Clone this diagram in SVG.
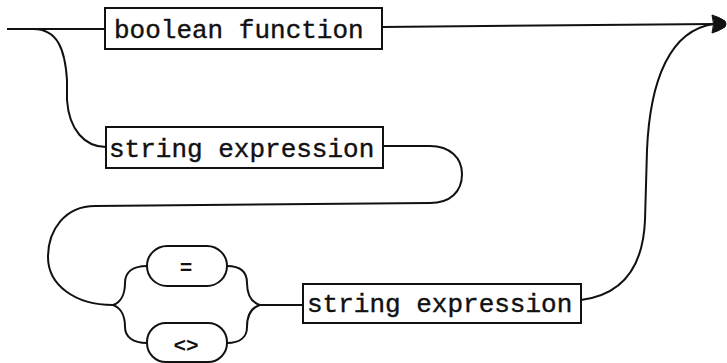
<svg xmlns="http://www.w3.org/2000/svg" width="727" height="363" viewBox="0 0 727 363">
<defs>
<style>
.box{fill:#fff;stroke:#111;stroke-width:2}
.lbl{font-family:"Liberation Mono","DejaVu Sans Mono",monospace;font-size:26px;fill:#111;stroke:#111;stroke-width:0.4}
.sm{font-family:"Liberation Mono","DejaVu Sans Mono",monospace;font-size:21px;font-weight:bold;fill:#111;text-anchor:middle}
.wire{fill:none;stroke:#111;stroke-width:2}
.head{fill:#111;stroke:#111;stroke-width:1}
</style>
</defs>
<rect width="727" height="363" fill="#fff"/>
<g id="connectors">
<path class="wire" d="M7,29 L105,29"/>
<path class="wire" d="M382,27 L714,24"/>
<path class="wire" d="M33,29 C58,29 65,50 67,80 L67,100 C69,130 85,147 106,147"/>
<path class="wire" d="M383,146 L430,146 C450,146 462,158 462,174 C462,192 450,203 430,203 L95,206 C65,206 48,230 48,257 C48,285 75,305 113,305"/>
<path class="wire" d="M113,305 C122,302 125,292 125,283 C125,272 133,266 147,266"/>
<path class="wire" d="M113,305 C122,308 125,318 125,327 C125,337 133,343 147,343"/>
<path class="wire" d="M227,266 C240,266 247,272 247,283 C247,293 250,302 260,305"/>
<path class="wire" d="M227,343 C240,343 247,337 247,327 C247,317 250,308 260,305"/>
<path class="wire" d="M260,305 L303,305"/>
<path class="wire" d="M581,300 C620,295 643,270 645,220 L647,150 C650,80 670,30 714,24"/>
<path class="head" d="M712,15 Q719,17 725,21 Q727,24 725,27 Q719,31 712,33 Q715,24 712,15 Z"/>
</g>
<g id="node-boolean-function">
<rect class="box" x="105" y="8" width="277" height="41"/>
<text class="lbl" x="114" y="38">boolean function</text>
</g>
<g id="node-string-expression-1">
<rect class="box" x="106" y="127" width="277" height="41"/>
<text class="lbl" x="109" y="157">string expression</text>
</g>
<g id="node-eq">
<rect class="box" x="147" y="246" width="80" height="40" rx="20"/>
<text class="sm" x="186" y="274">=</text>
</g>
<g id="node-ne">
<rect class="box" x="147" y="323" width="80" height="39" rx="19"/>
<text class="sm" x="186" y="352">&lt;&gt;</text>
</g>
<g id="node-string-expression-2">
<rect class="box" x="303" y="284" width="278" height="39"/>
<text class="lbl" x="307" y="312">string expression</text>
</g>
</svg>
